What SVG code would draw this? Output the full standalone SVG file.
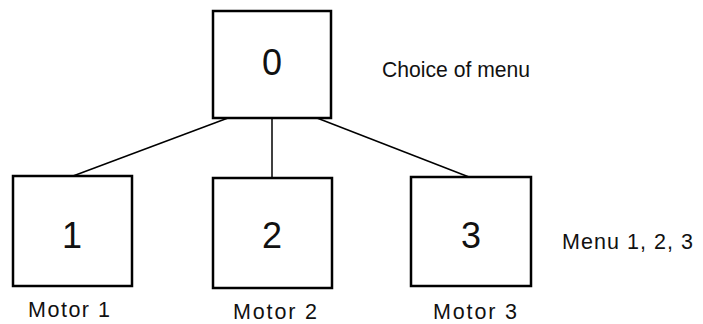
<svg xmlns="http://www.w3.org/2000/svg" width="703" height="324" viewBox="0 0 703 324">
  <style>
    .box { fill: #ffffff; stroke: #000000; stroke-width: 2.5; }
    .link { stroke: #000000; stroke-width: 1.5; fill: none; }
    .digit { font-family: "Liberation Sans", Arial, sans-serif; font-size: 36px; fill: #111111; text-anchor: middle; }
    .label { font-family: "Liberation Sans", Arial, sans-serif; font-size: 21.5px; fill: #111111; }
  </style>
  <rect width="703" height="324" fill="#ffffff"/>

  <!-- connectors from the top menu to the three sub-menus -->
  <g id="connectors">
    <line class="link" x1="228" y1="118" x2="73" y2="176"/>
    <line class="link" x1="272" y1="118" x2="272" y2="178"/>
    <line class="link" x1="317" y1="118" x2="469" y2="177"/>
  </g>

  <g id="node-0">
    <rect class="box" x="213" y="11" width="118" height="107"/>
    <text class="digit" x="272" y="75">0</text>
  </g>
  <text class="label" x="382" y="77" textLength="148" lengthAdjust="spacingAndGlyphs">Choice of menu</text>

  <g id="node-1">
    <rect class="box" x="13" y="176" width="119" height="110"/>
    <text class="digit" x="72" y="248">1</text>
  </g>
  <text class="label" x="28" y="317" textLength="82" lengthAdjust="spacing">Motor 1</text>

  <g id="node-2">
    <rect class="box" x="213" y="178" width="119" height="110"/>
    <text class="digit" x="272" y="248">2</text>
  </g>
  <text class="label" x="233" y="319" textLength="84" lengthAdjust="spacing">Motor 2</text>

  <g id="node-3">
    <rect class="box" x="411" y="177" width="120" height="109"/>
    <text class="digit" x="471" y="248">3</text>
  </g>
  <text class="label" x="433" y="319" textLength="84" lengthAdjust="spacing">Motor 3</text>

  <text class="label" x="562" y="249" textLength="131" lengthAdjust="spacing">Menu 1, 2, 3</text>
</svg>
